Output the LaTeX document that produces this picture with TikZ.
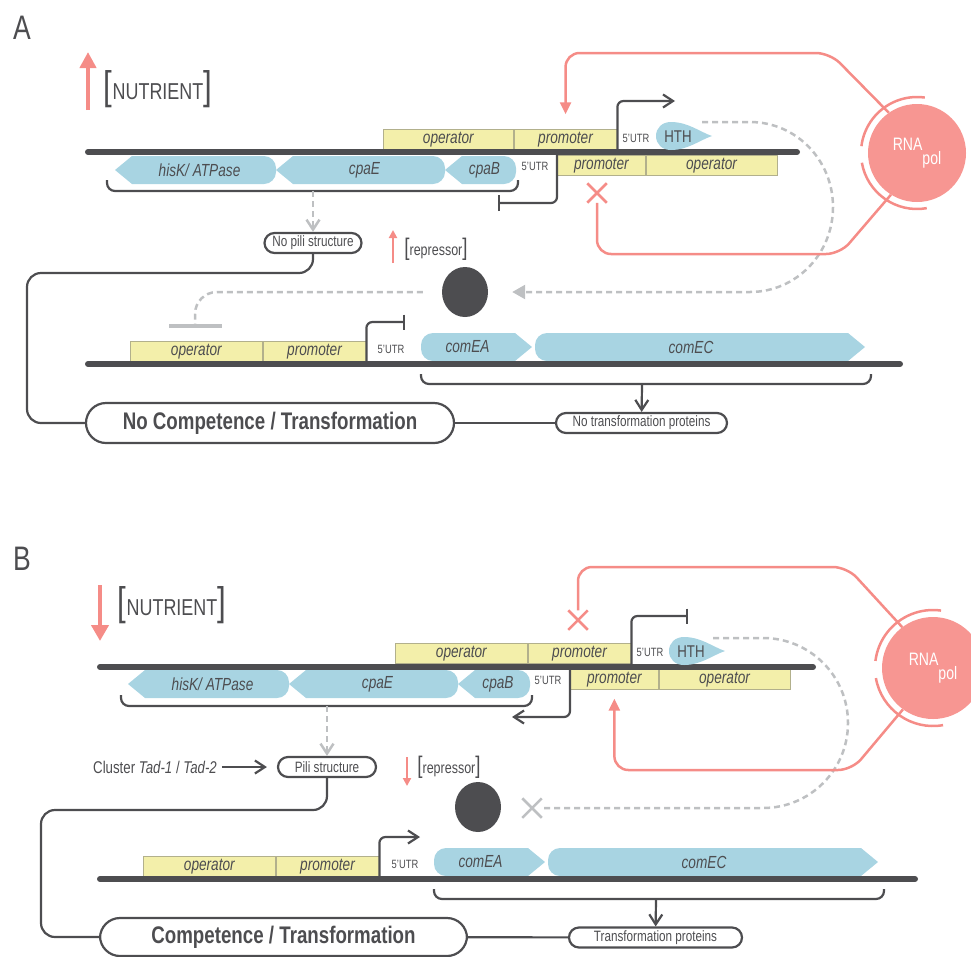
\documentclass[tikz,border=0pt]{standalone}
\usepackage{fontspec}
\setmainfont[FakeStretch=0.78]{Liberation Sans}
\usetikzlibrary{arrows.meta,positioning,shapes.geometric,shapes.misc}
\definecolor{dkgray}{RGB}{77,77,80}
\definecolor{pinkc}{RGB}{245,140,135}
\definecolor{pinkfill}{RGB}{247,150,146}
\definecolor{genec}{RGB}{168,212,226}
\definecolor{yelc}{RGB}{243,239,170}
\definecolor{yeldraw}{RGB}{178,176,140}
\definecolor{gyc}{RGB}{190,192,194}
\newcommand{\concof}[2]{{\fontsize{#1}{#1}\selectfont[}#2{\fontsize{#1}{#1}\selectfont]}}
\newcommand{\geneL}[5]{%
  \fill[gene] (#1,#3+14) -- (#1+17,#3) -- (#2-12,#3) arc[start angle=90,end angle=0,radius=12pt]
    -- (#2,#3+16) arc[start angle=0,end angle=-90,radius=12pt] -- (#1+17,#3+28) -- cycle;
  \node[gtxt] (#5) at ({(#1+#2)/2+4},#3+14) {#4};}
\newcommand{\geneR}[5]{%
  \fill[gene] (#2,#3+14) -- (#2-17,#3+28) -- (#1+12,#3+28) arc[start angle=-90,end angle=-180,radius=12pt]
    -- (#1,#3+12) arc[start angle=180,end angle=90,radius=12pt] -- (#2-17,#3) -- cycle;
  \node[gtxt] (#5) at ({(#1+#2)/2-9},#3+14) {#4};}
\newcommand{\hthshape}[1]{%
  \fill[gene, shift={#1}] (0,0) .. controls (0,-8) and (6,-14) .. (15,-14) .. controls (32,-14) and (44,-4) .. (56,0)
    .. controls (44,4) and (32,14) .. (15,14) .. controls (6,14) and (0,8) .. (0,0) -- cycle;}

\begin{document}
\begin{tikzpicture}[x=1pt, y=-1pt,
  every node/.style={text=dkgray, inner sep=0pt},
  lbl/.style={font=\fontsize{34}{34}\selectfont},
  nut/.style={font=\fontsize{23}{23}\selectfont},
  rep/.style={font=\fontsize{16}{16}\selectfont},
  dna/.style={draw=dkgray, line width=6pt, line cap=round},
  ybox/.style={draw=yeldraw, fill=yelc, line width=0.7pt, minimum height=20pt, font=\fontsize{17.5}{17.5}\selectfont\itshape},
  gene/.style={fill=genec},
  gtxt/.style={font=\fontsize{17.5}{17.5}\selectfont\itshape},
  utr/.style={font=\fontsize{12}{12}\selectfont},
  hth/.style={font=\fontsize{17}{17}\selectfont},
  dk/.style={draw=dkgray, line width=2.2pt},
  brace/.style={dk, rounded corners=8pt},
  pill/.style={draw=dkgray, line width=2.2pt, rounded corners=10pt, minimum height=20pt, font=\fontsize{15}{15}\selectfont},
  bigpill/.style={draw=dkgray, line width=2.2pt, rounded corners=20pt, minimum height=40pt, font=\fontsize{24}{24}\selectfont\bfseries},
  gydash/.style={draw=gyc, line width=2.5pt, dash pattern=on 6pt off 4pt},
  pk/.style={draw=pinkc, line width=2.5pt},
  rnap/.style={circle, fill=pinkfill, minimum size=98pt, text=white, font=\fontsize{18}{18}\selectfont},
  repc/.style={ellipse, fill=dkgray, minimum width=46pt, minimum height=50pt},
  pkx/.style={cross out, draw=pinkc, line width=2.5pt, minimum size=17pt},
  gyx/.style={cross out, draw=gyc, line width=2.5pt, minimum size=17pt},
  >={Straight Barb[length=10pt,width=13pt]}
]
\useasboundingbox (0,0) rectangle (971,956);

% panel A
\node[lbl] (labA) at (22,28) {A};
\draw[pk, line width=4.5pt, -{Triangle[length=16pt,width=16pt]}] (88,110) -- (88,52);
\node[nut] (nutA) at (158,89) {\concof{40}{NUTRIENT}};

\node[ybox, minimum width=130pt, anchor=south west] (opA1) at (383,150) {operator};
\node[ybox, minimum width=103pt, right=0pt of opA1] (prA1) {promoter};
\node[ybox, minimum width=88pt, anchor=north west] (prA2) at (557,155) {promoter};
\node[ybox, minimum width=131pt, right=0pt of prA2] (opA2) {operator};
\geneL{115}{276}{156}{hisK/ ATPase}{hisA}
\geneL{276}{445}{156}{cpaE}{cpaEA}
\geneL{445}{516}{156}{cpaB}{cpaBA}
\draw[dna] (88,152) -- (797,152);
\hthshape{(656,136)}
\node[hth] (hthA) at (678,137) {HTH};
\node[utr] (utrA1) at (636,138) {5'UTR};
\node[utr] (utrA2) at (535,166) {5'UTR};
\draw[dk, ->, rounded corners=6pt] (prA1.south east) |- (675,101);
\draw[dk, -{Bar[width=16pt]}, rounded corners=6pt] (prA2.north west) |- (498,203);
\draw[brace] (107,180) |- (518,191) -- (518,180);
\coordinate (brA1) at (313,191);
\node[pill, minimum width=97pt] (nopiA) at (313,243) {No pili structure};
\draw[gydash, ->] (brA1) -- (nopiA);

\draw[pk, line width=2pt, -{Triangle[length=8pt,width=8pt]}] (393,263) -- (393,230);
\node[rep] (rtA) at (436,249) {\concof{24}{repressor}};
\node[repc] (rpA) at (465,292) {};
\draw[gydash, -{Bar[width=53pt,line width=4pt]}, rounded corners=22pt, shorten <=19pt] (rpA.west) -| (195,328);
\coordinate (hA) at (702,122);
\draw[gydash, -{Triangle[length=13pt,width=14pt]}, shorten >=24pt] (hA) -- (750,122)
  .. controls (796,122) and (833,160) .. (833,207) .. controls (833,254) and (796,292) .. (750,292) -- (rpA.east);

\node[ybox, minimum width=132pt, anchor=south west] (opA3) at (130,362) {operator};
\node[ybox, minimum width=103pt, right=0pt of opA3] (prA3) {promoter};
\geneR{421}{532}{333}{comEA}{comEAA}
\geneR{535}{865}{333}{comEC}{comECA}
\draw[dna] (88,364) -- (900,364);
\node[utr] (utrA3) at (391,349) {5'UTR};
\draw[dk, -{Bar[width=15pt]}, rounded corners=6pt] (prA3.south east) |- (405,322);
\draw[brace] (421,374) |- (871,384) -- (871,374);
\coordinate (brA2) at (642,384);
\node[pill, minimum width=171pt] (notrA) at (641.5,423) {No transformation proteins};
\draw[dk, ->] (brA2) -- (notrA);
\node[bigpill, minimum width=368pt] (nocoA) at (270,423) {No Competence / Transformation};
\draw[dk] (nocoA) -- (notrA);
\draw[dk, rounded corners=14pt] (nopiA) |- (27,273) |- (nocoA);

\node[rnap] (rnaA) at (917,153) {RNA\raisebox{-14pt}{pol}};
\draw[pk] (rnaA.center) ++(82:56pt) arc[start angle=82, end angle=173, radius=56pt];
\draw[pk] (rnaA.center) ++(190:56pt) arc[start angle=190, end angle=280, radius=56pt];
\draw[pk, rounded corners=14pt, -{Triangle[length=12pt,width=11pt]}, shorten >=15pt] (rnaA.125) -- (830,53) -| (prA1.north);
\node[pkx] (xA) at (597,193) {};
\draw[pk, rounded corners=14pt] (rnaA.238) -- (840,254) -| (xA);

% panel B
\node[lbl] (labB) at (22,559) {B};
\draw[pk, line width=4.5pt, -{Triangle[length=16pt,width=17pt]}] (100,585) -- (100,641);
\node[nut] (nutB) at (172,605) {\concof{40}{NUTRIENT}};

\node[ybox, minimum width=132pt, anchor=south west] (opB1) at (395,664) {operator};
\node[ybox, minimum width=103pt, right=0pt of opB1] (prB1) {promoter};
\node[ybox, minimum width=88pt, anchor=north west] (prB2) at (570,669) {promoter};
\node[ybox, minimum width=131pt, right=0pt of prB2] (opB2) {operator};
\geneL{128}{289}{670}{hisK/ ATPase}{hisB}
\geneL{289}{458}{670}{cpaE}{cpaEB}
\geneL{458}{530}{670}{cpaB}{cpaBB}
\draw[dna] (100,667) -- (813,667);
\hthshape{(669,651)}
\node[hth] (hthB) at (691,652) {HTH};
\node[utr] (utrB1) at (650,652) {5'UTR};
\node[utr] (utrB2) at (548,680) {5'UTR};
\draw[dk, -{Bar[width=15pt]}, rounded corners=6pt] (prB1.south east) |- (688,616);
\draw[dk, ->, rounded corners=6pt] (prB2.north west) |- (512,717);
\draw[brace] (121,695) |- (532,706) -- (532,695);
\coordinate (brB1) at (327,706);
\node[pill, minimum width=98pt] (piB) at (327,767) {Pili structure};
\draw[gydash, ->] (brB1) -- (piB);
\node[rep, font=\fontsize{17}{17}\selectfont] (tadB) at (155,767) {Cluster \textit{Tad-1} / \textit{Tad-2}};
\draw[dk, ->, shorten <=5pt, shorten >=10pt] (tadB) -- (piB);

\draw[pk, line width=2pt, -{Triangle[length=8pt,width=8pt]}] (407,757) -- (407,786);
\node[rep] (rtB) at (449,767) {\concof{24}{repressor}};
\node[repc] (rpB) at (478,807) {};
\node[gyx] (xB) at (532,808) {};
\coordinate (hB) at (713,638);
\draw[gydash] (hB) -- (763,638) .. controls (810,638) and (848,676) .. (848,723)
  .. controls (848,770) and (810,808) .. (763,808) -- (xB);

\node[ybox, minimum width=132pt, anchor=south west] (opB3) at (143,877) {operator};
\node[ybox, minimum width=103pt, right=0pt of opB3] (prB3) {promoter};
\geneR{434}{545}{848}{comEA}{comEAB}
\geneR{548}{878}{848}{comEC}{comECB}
\draw[dna] (100,879) -- (915,879);
\node[utr] (utrB3) at (405,864) {5'UTR};
\draw[dk, ->, rounded corners=6pt] (prB3.south east) |- (420,837);
\draw[brace] (434,889) |- (884,899) -- (884,889);
\coordinate (brB2) at (656,899);
\node[pill, minimum width=173pt] (trB) at (655.5,937.5) {Transformation proteins};
\draw[dk, ->] (brB2) -- (trB);
\node[bigpill, minimum width=367pt, minimum height=38pt] (coB) at (283.5,937) {Competence / Transformation};
\draw[dk] (coB) -- (trB);
\draw[dk, rounded corners=14pt] (piB) |- (41,810) |- (coB);

\node[rnap, minimum size=102pt] (rnaB) at (933,668) {RNA\raisebox{-14pt}{pol}};
\draw[pk] (rnaB.center) ++(82:58pt) arc[start angle=82, end angle=173, radius=58pt];
\draw[pk] (rnaB.center) ++(190:58pt) arc[start angle=190, end angle=280, radius=58pt];
\node[pkx] (xB2) at (578,620) {};
\draw[pk, rounded corners=14pt] (rnaB.127) -- (847,567) -| (xB2);
\draw[pk, rounded corners=14pt, -{Triangle[length=12pt,width=11pt]}, shorten >=9pt] (rnaB.234) -- (852,770) -| (prB2.south);
\end{tikzpicture}
\end{document}
